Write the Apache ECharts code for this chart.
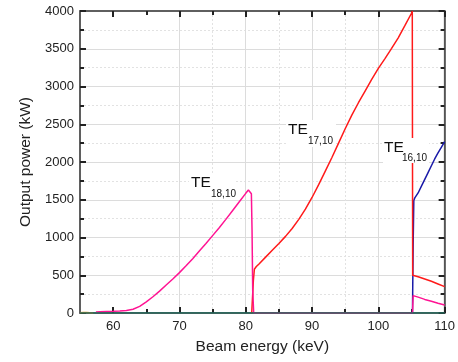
<!DOCTYPE html>
<html>
<head>
<meta charset="utf-8">
<script src="https://cdn.jsdelivr.net/npm/echarts@6/dist/echarts.min.js"></script>
<style>
  html, body { margin: 0; padding: 0; background: #fff; }
  #chart { width: 458px; height: 362px; }
</style>
</head>
<body>
<div id="chart"></div>
<script>
// tick values
const xMajorTicks = [60, 70, 80, 90, 100, 110];
const xMinorTicks = [65, 75, 85, 95, 105];

// TE18,10 (magenta)
const te18Energy = [57.4, 58, 59, 60, 61, 62, 63, 64, 65, 66, 67, 68, 69, 70, 71, 72, 73, 74, 75, 76, 77, 78, 79, 80, 80.4, 80.7, 80.85, 80.95, 81.05, 81.2, 105.15, 105.25, 105.4, 106, 107, 108, 109, 110];
const te18Power  = [13, 16, 19, 22, 26, 32, 50, 88, 148, 215, 290, 370, 450, 535, 625, 720, 820, 920, 1025, 1130, 1240, 1355, 1470, 1585, 1630, 1625, 1580, 1100, 300, 0, 0, 230, 228, 210, 180, 155, 128, 105];

// TE17,10 (red)
const te17Energy = [80.9, 81.05, 81.15, 81.3, 81.6, 82, 83, 84, 85, 86, 87, 88, 89, 90, 91, 92, 93, 94, 95, 96, 97, 98, 99, 100, 101, 102, 103, 104, 105, 105.12, 105.18, 105.3, 106, 107, 108, 109, 110];
const te17Power  = [0, 0, 430, 580, 615, 650, 740, 830, 920, 1015, 1120, 1240, 1375, 1530, 1700, 1880, 2060, 2250, 2440, 2620, 2785, 2940, 3095, 3240, 3370, 3505, 3645, 3805, 3970, 4000, 500, 505, 480, 450, 420, 385, 350];

// TE16,10 (blue)
const te16Energy = [104.8, 105.15, 105.25, 105.35, 105.5, 106, 106.5, 107, 107.5, 108, 108.5, 109, 109.5, 110];
const te16Power  = [0, 0, 900, 1490, 1525, 1590, 1680, 1770, 1860, 1950, 2040, 2120, 2195, 2270];

// other modes near zero
const lowEnergy = [55, 55.5, 56, 56.5, 57];
const lowPower  = [2, 5, 6, 4, 0];
const baseEnergy = [55, 110];
const basePower  = [0, 0];

const zip = (xs, ys) => xs.map((x, i) => [x, ys[i]]);

const chart = echarts.init(document.getElementById('chart'));

const font = 'Liberation Sans, Arial, sans-serif';
const frame = () => ({ show: true, onZero: false, lineStyle: { color: '#555', width: 1.5 } });
const noLine = () => ({ show: false, onZero: false });
const tickStyle = () => ({ color: '#222', width: 2 });
const off = () => ({ show: false });

const line = (data, color, z) => ({
  type: 'line',
  xAxisIndex: 2,
  yAxisIndex: 1,
  data: data,
  showSymbol: false,
  symbol: 'none',
  lineStyle: { color: color, width: 1.5 },
  z: z,
  animation: false
});

// grid-line axes come first so the tick axes drawn later sit on top of them
const xGrid = (values, lineStyle) => ({
  type: 'value', min: 55, max: 110, position: 'bottom', z: 0,
  axisLine: noLine(),
  axisTick: { show: false, customValues: values },
  axisLabel: off(),
  splitLine: { show: true, showMinLine: false, showMaxLine: false, lineStyle: lineStyle }
});

const xTicks = (position, values, len, extra) => Object.assign({
  type: 'value', min: 55, max: 110, position: position, z: 1,
  axisLine: noLine(),
  axisTick: { show: true, customValues: values, inside: true, length: len, lineStyle: tickStyle() },
  axisLabel: off(),
  splitLine: off()
}, extra || {});

chart.setOption({
  grid: {
    left: 80, right: 13, top: 11, bottom: 49,
    show: true, backgroundColor: 'transparent', borderColor: '#555', borderWidth: 1.5
  },
  xAxis: [
    xGrid(xMajorTicks, { color: '#dcdcdc', width: 1 }),
    xGrid(xMinorTicks, { color: '#e2e2e2', width: 1, type: [2, 2] }),
    xTicks('bottom', xMajorTicks, 6, {
      axisLine: frame(),
      axisLabel: { customValues: xMajorTicks, fontSize: 13, color: '#222', fontFamily: font, margin: 7, formatter: v => String(v) },
      name: 'Beam energy (keV)', nameLocation: 'middle', nameGap: 26,
      nameTextStyle: { fontSize: 15.5, color: '#222', fontFamily: font }
    }),
    xTicks('bottom', xMinorTicks, 4),
    xTicks('top', xMajorTicks, 6, { axisLine: frame() }),
    xTicks('top', xMinorTicks, 4)
  ],
  yAxis: [
    {
      type: 'value', min: 0, max: 4000, interval: 500, position: 'left', z: 0,
      axisLine: noLine(),
      axisTick: off(),
      minorTick: { show: false, splitNumber: 2 },
      axisLabel: off(),
      splitLine: { show: true, showMinLine: false, showMaxLine: false, lineStyle: { color: '#dcdcdc', width: 1 } },
      minorSplitLine: { show: true, lineStyle: { color: '#e2e2e2', width: 1, type: [2, 2] } }
    },
    {
      type: 'value', min: 0, max: 4000, interval: 500, position: 'left', z: 1,
      axisLine: frame(),
      axisTick: { show: true, inside: true, length: 6, lineStyle: tickStyle() },
      minorTick: { show: true, splitNumber: 2, length: 4, lineStyle: tickStyle() },
      axisLabel: { fontSize: 13, color: '#222', fontFamily: font, margin: 6, formatter: v => String(v) },
      splitLine: off(),
      name: 'Output power (kW)', nameLocation: 'middle', nameGap: 45,
      nameTextStyle: { fontSize: 15.5, color: '#222', fontFamily: font }
    },
    {
      type: 'value', min: 0, max: 4000, interval: 500, position: 'right', z: 1,
      axisLine: frame(),
      axisTick: { show: true, inside: true, length: 6, lineStyle: tickStyle() },
      minorTick: { show: true, splitNumber: 2, length: 4, lineStyle: tickStyle() },
      axisLabel: off(),
      splitLine: off()
    }
  ],
  series: [
    line(zip(lowEnergy, lowPower), '#e8901c', 3),
    line(zip(te16Energy, te16Power), '#1a1aa8', 4),
    line(zip(te17Energy, te17Power), '#ff1a1a', 5),
    line(zip(te18Energy, te18Power), '#ff1493', 6),
    line(zip(baseEnergy, basePower), '#1f6b5e', 7)
  ],
  graphic: [
    { type: 'rect', z: 100, shape: { x: 189, y: 175, width: 46, height: 25 }, style: { fill: '#fff' } },
    { type: 'rect', z: 100, shape: { x: 286, y: 120, width: 50, height: 27 }, style: { fill: '#fff' } },
    { type: 'rect', z: 100, shape: { x: 383, y: 138, width: 46, height: 25 }, style: { fill: '#fff' } },
    { type: 'text', z: 101, left: 191, top: 175, style: { text: 'TE', font: '15.5px ' + font, fill: '#111' } },
    { type: 'text', z: 101, left: 211, top: 189, style: { text: '18,10', font: '10px ' + font, fill: '#111' } },
    { type: 'text', z: 101, left: 288, top: 122, style: { text: 'TE', font: '15.5px ' + font, fill: '#111' } },
    { type: 'text', z: 101, left: 308, top: 136, style: { text: '17,10', font: '10px ' + font, fill: '#111' } },
    { type: 'text', z: 101, left: 384, top: 140, style: { text: 'TE', font: '15.5px ' + font, fill: '#111' } },
    { type: 'text', z: 101, left: 402, top: 153, style: { text: '16,10', font: '10px ' + font, fill: '#111' } }
  ]
});
</script>
</body>
</html>
